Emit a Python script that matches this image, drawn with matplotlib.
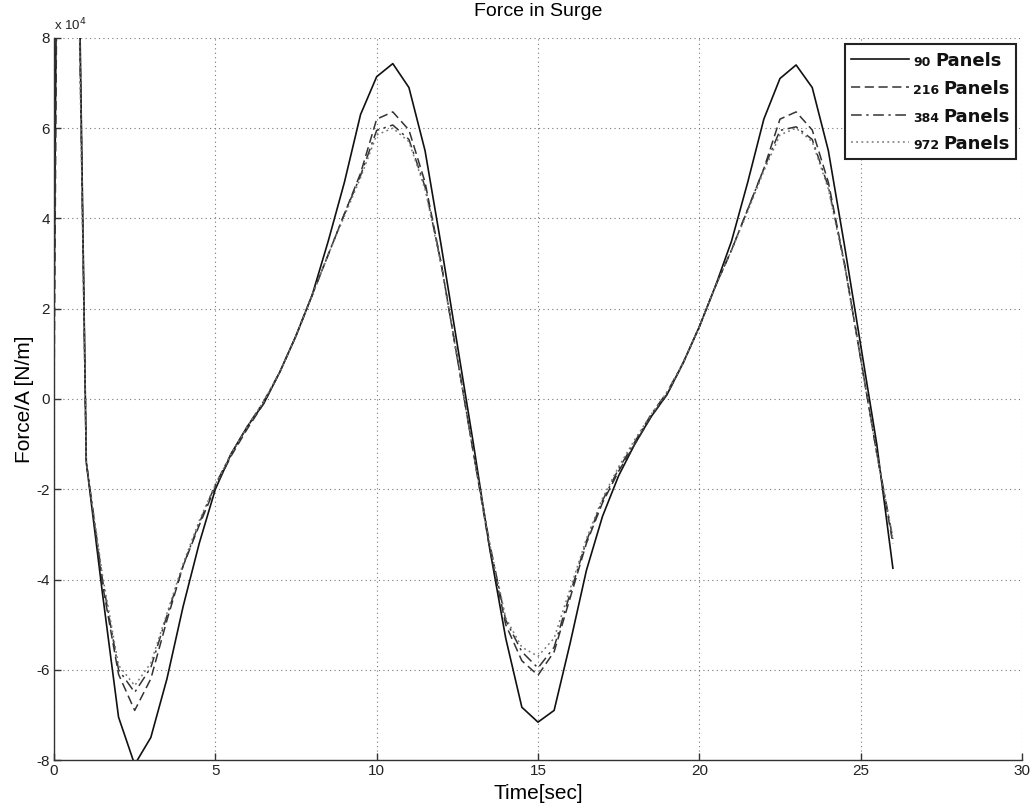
import numpy as np
import matplotlib
matplotlib.use("Agg")
import matplotlib.pyplot as plt
from matplotlib.lines import Line2D
from matplotlib.ticker import FuncFormatter, MultipleLocator
from matplotlib.offsetbox import (AnchoredOffsetbox, HPacker, VPacker,
                                  TextArea, DrawingArea)

plt.rcParams['font.family'] = ['Liberation Sans', 'DejaVu Sans']

# Sample times [s]
time = np.concatenate(([0.0, 0.3], np.arange(1.0, 26.01, 0.5)))

# Surge force per wave amplitude, in units of 1e4 N/m
force_90 = [1.7, 33.0, -1.4, -4.3, -7.05, -8.1, -7.5, -6.2, -4.6, -3.2,
            -2.0, -1.2, -0.6, -0.1, 0.6, 1.4, 2.3, 3.5, 4.8, 6.3,
            7.14, 7.43, 6.9, 5.5, 3.4, 1.2, -1.0, -3.3, -5.3, -6.83,
            -7.16, -6.9, -5.4, -3.8, -2.6, -1.7, -1.0, -0.4, 0.1, 0.8,
            1.6, 2.5, 3.5, 4.8, 6.2, 7.1, 7.4, 6.9, 5.5, 3.4,
            1.2, -1.0, -3.75]
force_216 = [0.0, 32.0, -1.4, -4.1, -6.1, -6.9, -6.2, -4.9, -3.7, -2.8,
             -1.95, -1.25, -0.65, -0.1, 0.6, 1.4, 2.3, 3.2, 4.1, 5.0,
             6.2, 6.36, 5.96, 4.8, 3.0, 0.9, -1.2, -3.3, -5.0, -5.8,
             -6.12, -5.6, -4.4, -3.2, -2.3, -1.6, -1.0, -0.4, 0.1, 0.8,
             1.6, 2.5, 3.3, 4.2, 5.1, 6.2, 6.36, 5.96, 4.8, 3.0,
             0.9, -1.2, -3.2]
force_384 = [5.4, 31.0, -1.4, -4.0, -6.0, -6.5, -5.95, -4.8, -3.7, -2.75,
             -1.9, -1.2, -0.6, -0.05, 0.6, 1.4, 2.3, 3.2, 4.1, 4.95,
             5.95, 6.07, 5.75, 4.7, 3.0, 0.9, -1.2, -3.2, -4.9, -5.6,
             -5.96, -5.5, -4.3, -3.15, -2.25, -1.55, -0.95, -0.35, 0.15, 0.8,
             1.6, 2.5, 3.3, 4.2, 5.1, 5.95, 6.03, 5.75, 4.7, 3.0,
             0.9, -1.2, -3.1]
force_972 = [7.1, 30.0, -1.4, -3.9, -5.9, -6.35, -5.85, -4.75, -3.65, -2.7,
             -1.9, -1.2, -0.6, -0.05, 0.6, 1.4, 2.3, 3.2, 4.05, 4.9,
             5.85, 6.0, 5.7, 4.65, 2.95, 0.9, -1.2, -3.2, -4.85, -5.5,
             -5.7, -5.3, -4.2, -3.1, -2.2, -1.5, -0.9, -0.35, 0.15, 0.8,
             1.6, 2.5, 3.3, 4.15, 5.05, 5.85, 6.0, 5.7, 4.65, 2.95,
             0.9, -1.2, -3.1]

panel_counts = ["90", "216", "384", "972"]
series = [force_90, force_216, force_384, force_972]
styles = [
    dict(color="#111111", linestyle="-", linewidth=1.2),
    dict(color="#333333", linestyle=(0, (6, 3)), linewidth=1.1),
    dict(color="#333333", linestyle=(0, (7, 3, 1.5, 3)), linewidth=1.1),
    dict(color="#777777", linestyle=(0, (1.2, 2.2)), linewidth=1.1),
]

fig = plt.figure(figsize=(10.33, 8.06), dpi=100)
ax = fig.add_axes([0.0523, 0.057, 0.9370, 0.896])

scale = 1e4
for vals, st in zip(series, styles):
    ax.plot(time, np.asarray(vals) * scale, **st)

ax.set_xlim(0, 30)
ax.set_ylim(-8e4, 8e4)
ax.xaxis.set_major_locator(MultipleLocator(5))
ax.yaxis.set_major_locator(MultipleLocator(2e4))
ax.yaxis.set_major_formatter(FuncFormatter(lambda v, p: f"{v / scale:g}"))
ax.grid(True, linestyle=(0, (1, 3)), color="#777777", linewidth=0.8)

for side in ("top", "right"):
    ax.spines[side].set_visible(False)
for side in ("left", "bottom"):
    ax.spines[side].set_linewidth(1.0)
    ax.spines[side].set_color("#333333")
ax.tick_params(direction="in", length=5, width=1, labelsize=11,
               colors="#333333", labelcolor="#222222", pad=3)

ax.text(0.0, 1.006, r"x 10$^4$", transform=ax.transAxes, fontsize=9.5,
        ha="left", va="bottom", color="#222222")

ax.set_title("Force in Surge", fontsize=14, pad=16)
ax.set_xlabel("Time[sec]", fontsize=15, labelpad=4)
ax.set_ylabel("Force/A [N/m]", fontsize=15, labelpad=2)

# Legend: line sample, small panel count and heavy "Panels" word
rows = []
for num, st in zip(panel_counts, styles):
    da = DrawingArea(42, 12, 0, 0)
    da.add_artist(Line2D([0, 42], [5, 5], **st))
    num_t = TextArea(num, textprops=dict(fontsize=9, fontweight="bold",
                                         family="DejaVu Sans",
                                         color="#111111"))
    pan_t = TextArea("Panels", textprops=dict(fontsize=13,
                                              fontweight="bold",
                                              family="DejaVu Sans",
                                              color="#111111"))
    rows.append(HPacker(children=[da, num_t, pan_t], align="baseline",
                        pad=0, sep=3))
box = VPacker(children=rows, align="left", pad=0, sep=5)
leg = AnchoredOffsetbox(loc="upper right", child=box, pad=0.4,
                        borderpad=0.45, frameon=True,
                        bbox_to_anchor=(1.0, 1.0),
                        bbox_transform=ax.transAxes)
leg.patch.set_boxstyle("square", pad=0)
leg.patch.set_edgecolor("#222222")
leg.patch.set_linewidth(1.5)
leg.patch.set_facecolor("white")
ax.add_artist(leg)

fig.savefig("out.png", dpi=100)
